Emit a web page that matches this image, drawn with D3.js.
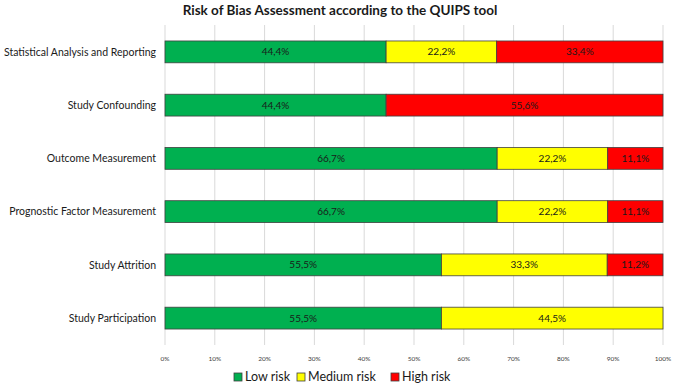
<!DOCTYPE html>
<html>
<head>
<meta charset="utf-8">
<script src="https://cdn.jsdelivr.net/npm/d3@7"></script>
<style>
  body { margin: 0; background: #fff; }
  text { font-family: Lato, "Liberation Sans", sans-serif; }
</style>
</head>
<body>
<div id="chart"></div>
<script>
// data, top row first
var domains = ["Statistical Analysis and Reporting", "Study Confounding", "Outcome Measurement",
               "Prognostic Factor Measurement", "Study Attrition", "Study Participation"];
var lowRisk    = [44.4, 44.4, 66.7, 66.7, 55.5, 55.5];
var mediumRisk = [22.2, 0, 22.2, 22.2, 33.3, 44.5];
var highRisk   = [33.4, 55.6, 11.1, 11.1, 11.2, 0];
var seriesNames = ["Low risk", "Medium risk", "High risk"];
var seriesColors = ["#00b050", "#ffff00", "#ff0000"];
var tickValues = [0, 10, 20, 30, 40, 50, 60, 70, 80, 90, 100];

var width = 675, height = 386;
var margin = {top: 25, right: 12, bottom: 41, left: 165};

var svg = d3.select("#chart").append("svg")
    .attr("width", width)
    .attr("height", height);

var rows = domains.map(function(d, i) {
  return {name: d, "Low risk": lowRisk[i], "Medium risk": mediumRisk[i], "High risk": highRisk[i]};
});
var stacked = d3.stack().keys(seriesNames)(rows);

var x = d3.scaleLinear().domain([0, 100]).range([margin.left, width - margin.right]);
var y = d3.scaleBand().domain(domains).range([margin.top, height - margin.bottom]).paddingInner(0.59).paddingOuter(0.3);

// title
svg.append("text")
    .attr("x", 340)
    .attr("y", 15)
    .attr("text-anchor", "middle")
    .style("font-size", "13.5px")
    .style("font-weight", "bold")
    .attr("fill", "#1a1a1a")
    .text("Risk of Bias Assessment according to the QUIPS tool");

// gridlines
svg.append("g")
  .selectAll("line")
  .data(tickValues)
  .enter()
  .append("line")
    .attr("x1", function(d) { return x(d); })
    .attr("x2", function(d) { return x(d); })
    .attr("y1", margin.top)
    .attr("y2", height - margin.bottom)
    .attr("stroke", "#d9d9d9")
    .attr("stroke-width", 1);

// tick labels
svg.append("g")
  .selectAll("text")
  .data(tickValues)
  .enter()
  .append("text")
    .attr("x", function(d) { return x(d); })
    .attr("y", 361)
    .attr("text-anchor", "middle")
    .style("font-size", "6.5px")
    .attr("fill", "#404040")
    .text(function(d) { return d + "%"; });

// bars
var layer = svg.append("g")
  .selectAll("g")
  .data(stacked)
  .enter()
  .append("g")
    .attr("fill", function(d, i) { return seriesColors[i]; });

layer.selectAll("rect")
  .data(function(d) { return d.filter(function(s) { return s[1] - s[0] > 0; }); })
  .enter()
  .append("rect")
    .attr("x", function(d) { return x(d[0]); })
    .attr("y", function(d) { return y(d.data.name); })
    .attr("width", function(d) { return x(d[1]) - x(d[0]); })
    .attr("height", y.bandwidth())
    .attr("stroke", "#404040")
    .attr("stroke-width", 0.8);

layer.selectAll("text")
  .data(function(d) { return d.filter(function(s) { return s[1] - s[0] > 0; }); })
  .enter()
  .append("text")
    .attr("x", function(d) { return (x(d[0]) + x(d[1])) / 2; })
    .attr("y", function(d) { return y(d.data.name) + y.bandwidth() / 2; })
    .attr("dy", "0.35em")
    .attr("text-anchor", "middle")
    .attr("fill", "#1a1a1a")
    .style("font-size", "10px")
    .text(function(d) { return (d[1] - d[0]).toFixed(1).replace(".", ",") + "%"; });

// category labels
svg.append("g")
  .selectAll("text")
  .data(domains)
  .enter()
  .append("text")
    .attr("x", 156)
    .attr("y", function(d) { return y(d) + y.bandwidth() / 2; })
    .attr("dy", "0.35em")
    .attr("text-anchor", "end")
    .attr("fill", "#1a1a1a")
    .style("font-size", "10.5px")
    .text(function(d) { return d; });

// legend
var legendX = [234, 297, 391];
var legend = svg.append("g")
  .selectAll("g")
  .data(seriesNames)
  .enter()
  .append("g")
    .attr("transform", function(d, i) { return "translate(" + legendX[i] + ",373)"; });

legend.append("rect")
    .attr("width", 8)
    .attr("height", 8)
    .attr("fill", function(d, i) { return seriesColors[i]; })
    .attr("stroke", "#404040")
    .attr("stroke-width", 0.8);

legend.append("text")
    .attr("x", 11)
    .attr("y", 4)
    .attr("dy", "0.35em")
    .attr("fill", "#1a1a1a")
    .style("font-size", "12.5px")
    .text(function(d) { return d; });
</script>
</body>
</html>
